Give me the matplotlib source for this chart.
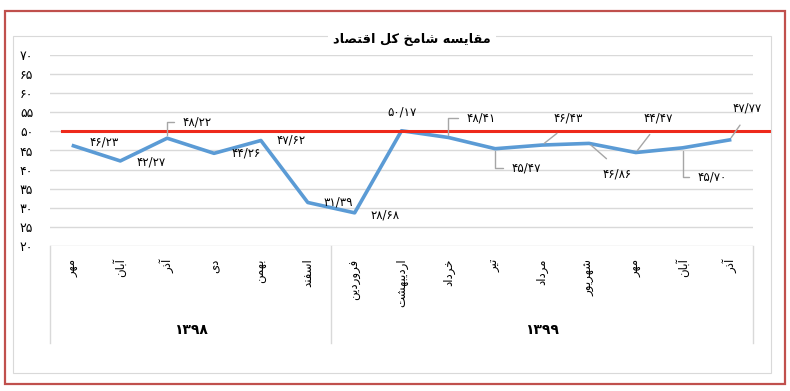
import matplotlib
matplotlib.use('Agg')
import matplotlib.pyplot as plt
from matplotlib.patches import Rectangle

# داده‌ها
title = 'مقایسه شامخ کل اقتصاد'
months = ['مهر', 'آبان', 'آذر', 'دی', 'بهمن', 'اسفند',
          'فروردین', 'اردیبهشت', 'خرداد', 'تیر', 'مرداد', 'شهریور', 'مهر', 'آبان', 'آذر']
years = ['۱۳۹۸', '۱۳۹۹']
year_sizes = [6, 9]
shamekh = [46.23, 42.27, 48.22, 44.26, 47.62, 31.39, 28.68, 50.17,
           48.41, 45.47, 46.43, 46.86, 44.47, 45.70, 47.77]
threshold = 50
y_ticks = [20, 25, 30, 35, 40, 45, 50, 55, 60, 65, 70]

# جای برچسب‌ها (پیکسل نسبت به نقطه) و نوع خط راهنما
label_offsets = [(31, 4, None), (31, -1, None), (30, 16, 'elbow'), (32, 0, None), (30, 0, None),
                 (30, 0, None), (30, -2, None), (0, 19, None), (33, 19, 'elbow'), (31, -19, 'elbow'),
                 (26, 27, 'diag'), (28, -31, 'diag'), (22, 35, 'diag'), (29, -29, 'elbow'), (18, 32, 'diag')]

# شکل‌دهی ساده حروف فارسی (matplotlib حروف را به هم نمی‌چسباند)
_B = {'آ': 0xFE81, 'ا': 0xFE8D, 'ب': 0xFE8F, 'ت': 0xFE95, 'خ': 0xFEA5, 'د': 0xFEA9, 'ذ': 0xFEAB,
      'ر': 0xFEAD, 'س': 0xFEB1, 'ش': 0xFEB5, 'ص': 0xFEB9, 'ف': 0xFED1, 'ق': 0xFED5, 'ل': 0xFEDD,
      'م': 0xFEE1, 'ن': 0xFEE5, 'ه': 0xFEE9, 'و': 0xFEED, 'ی': 0xFBFC, 'ک': 0xFB8E}
_RIGHT_ONLY = set('آادذرو')


def shape(s):
    out = []
    for i, ch in enumerate(s):
        if ch not in _B:
            out.append(ch)
            continue
        prev = s[i - 1] if i > 0 else ''
        nxt = s[i + 1] if i + 1 < len(s) else ''
        jp = prev in _B and prev not in _RIGHT_ONLY
        jn = ch not in _RIGHT_ONLY and nxt in _B
        k = 3 if (jp and jn) else 1 if jp else 2 if jn else 0
        out.append(chr(_B[ch] + k))
    return ''.join(reversed(out))


def fa_num(s):
    return s.translate(str.maketrans('0123456789', '۰۱۲۳۴۵۶۷۸۹'))


plt.rcParams['font.family'] = ['DejaVu Sans']
grid_color = '#d9d9d9'
leader_color = '#a6a6a6'

fig = plt.figure(figsize=(7.9, 3.91), dpi=100)

# قاب‌ها
fig.patches.append(Rectangle((5 / 790, 7 / 391), 780 / 790, 373 / 391, transform=fig.transFigure,
                             fill=False, edgecolor='#c0504d', lw=1.6))
fig.patches.append(Rectangle((13 / 790, 18 / 391), 758 / 790, 337 / 391, transform=fig.transFigure,
                             fill=False, edgecolor=grid_color, lw=0.8))

ax = fig.add_axes([50 / 790, 145 / 391, 703 / 790, 191 / 391])
x = list(range(len(shamekh)))
ax.plot(x, shamekh, color='#5b9bd5', lw=2.6, zorder=3)
ax.axhline(threshold, xmin=0.017, xmax=1.024, color='#ee2a1b', lw=2.2, clip_on=False, zorder=4)

ax.set_xlim(-0.5, len(shamekh) - 0.5)
ax.set_ylim(y_ticks[0], y_ticks[-1])
ax.set_yticks(y_ticks)
ax.set_yticklabels([fa_num(str(t)) for t in y_ticks], fontsize=9)
ax.yaxis.grid(True, color=grid_color, lw=1)
ax.set_axisbelow(True)
for s in ax.spines.values():
    s.set_visible(False)
ax.tick_params(axis='y', length=0, pad=12)
ax.tick_params(axis='x', length=0, pad=9)
ax.set_xticks(x)
ax.set_xticklabels([shape(m) for m in months], rotation=90, va='top', ha='center', fontsize=8.5)

# جعبه دسته‌ها و سال‌ها
xt = ax.get_xaxis_transform()
start = -0.5
ax.plot([start, start], [0, -0.508], color=grid_color, lw=1, transform=xt, clip_on=False)
for yr, n in zip(years, year_sizes):
    ax.text(start + n / 2, -0.44, yr, transform=xt, ha='center', va='center', fontsize=10,
            fontweight='bold')
    start += n
    ax.plot([start, start], [0, -0.508], color=grid_color, lw=1, transform=xt, clip_on=False)

# برچسب داده‌ها
for i, (v, (dx, dy, kind)) in enumerate(zip(shamekh, label_offsets)):
    txt = fa_num(f'{v:.2f}'.replace('.', '/'))
    kw = {}
    if kind == 'elbow':
        kw['arrowprops'] = dict(arrowstyle='-', color=leader_color, lw=1, shrinkA=4, shrinkB=2,
                                connectionstyle='angle,angleA=0,angleB=90,rad=0', relpos=(0, 0.5))
    elif kind == 'diag':
        kw['arrowprops'] = dict(arrowstyle='-', color=leader_color, lw=1, shrinkA=7, shrinkB=2,
                                relpos=(0.5, 0 if dy > 0 else 1))
    ax.annotate(txt, (i, v), xytext=(dx, dy), textcoords='offset pixels', ha='center',
                va='center', fontsize=8.5, zorder=5, **kw)

fig.text(412 / 790, 1 - 40 / 391, shape(title), ha='center', va='center', fontsize=9.3,
         fontweight='bold', bbox=dict(facecolor='white', edgecolor='none', pad=4))

fig.savefig('out.png', dpi=100)
